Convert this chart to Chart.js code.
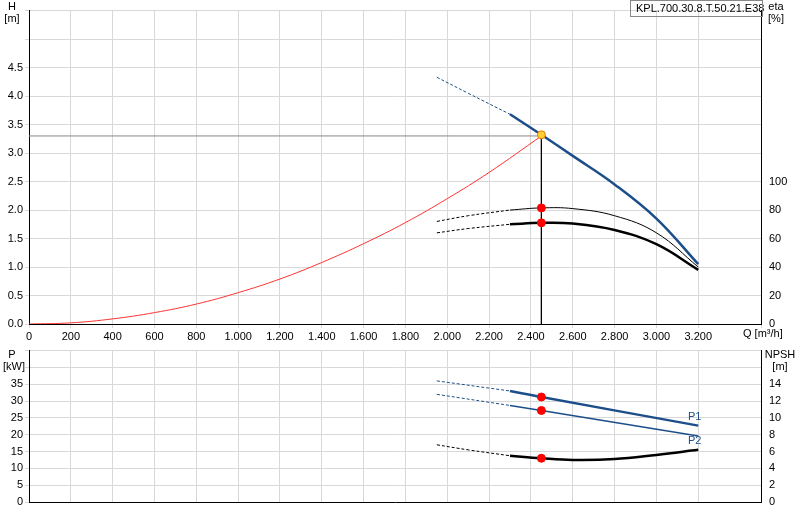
<!DOCTYPE html>
<html><head><meta charset="utf-8">
<script src="https://cdn.jsdelivr.net/npm/chart.js@4"></script>
<style>body{margin:0;background:#fff}#a{position:absolute;left:0;top:0}#b{position:absolute;left:0;top:340px}</style>
</head><body>
<div id="a" style="width:800px;height:340px"><canvas id="c1"></canvas></div>
<div id="b" style="width:800px;height:180px"><canvas id="c2"></canvas></div>
<script>
const qDash=[1950,2100,2300];
const hDash=[4.33,4.05,3.68];
const qSolid=[2300,2450,2600,2800,3000,3200];
const hSolid=[3.68,3.32,2.95,2.45,1.85,1.05];
const qSys=[0,200,400,600,800,1000,1200,1400,1600,1800,2000,2200,2450];
const hSys=[0,0.02,0.09,0.2,0.35,0.55,0.79,1.08,1.41,1.78,2.2,2.66,3.3];
const qEta=[1950,2100,2300,2450,2600,2800,3000,3200];
const eta1=[72,76,80,81.5,81,76,64,40];
const eta2=[64,67,70,71,70.5,66,56,38];
const qDuty=2450, hDuty=3.32, eta1Duty=81.5, eta2Duty=71;
const qP=[1950,2300,2450,3200];
const p1=[36,33,31.2,22.7];
const p2=[32,28.7,27.2,19.6];
const qN=[1950,2100,2300,2450,2600,2800,3000,3200];
const npsh=[6.8,6.2,5.5,5.2,5.0,5.1,5.6,6.2];
const p1Duty=31.2, p2Duty=27.2, npshDuty=5.2;

const F='"Liberation Sans", Arial, sans-serif';
Chart.defaults.font.family=F; Chart.defaults.font.size=11; Chart.defaults.color='#000';
const xy=(xs,ys,a,b)=>xs.slice(a,b).map((x,i)=>({x,y:ys[a+i]}));
function ln(data,color,w,dash,axis){return {data,borderColor:color,borderWidth:w,borderDash:dash||[],pointRadius:0,yAxisID:axis||'y',tension:0.4,fill:false};}
function pt(x,y,color,axis){return {data:[{x,y}],pointRadius:4,pointBackgroundColor:color,pointBorderColor:color==='#ffcc33'?'#e08000':color,borderWidth:1,showLine:false,yAxisID:axis||'y'};}
const fmtQ=v=>v>3200?'':v.toLocaleString('en-US');
function fix(w){return s=>{s.width=w;};}
const texts={id:'t',afterDraw(c,a,o){const x=c.ctx;x.save();x.font='11px '+F;x.fillStyle='#000';for(const t of o.items){x.textAlign=t.al||'left';x.fillStyle=t.c||'#000';x.fillText(t.s,t.x,t.y);}x.restore();}};
const blue='#1c4f8a';
const eta1Pts=qEta.map((x,i)=>({x,y:eta1[i]})), eta2Pts=qEta.map((x,i)=>({x,y:eta2[i]}));
new Chart(document.getElementById('c1'),{type:'line',plugins:[texts],
data:{datasets:[
 pt(qDuty,hDuty,'#ffcc33'),pt(qDuty,eta1Duty,'#ff0000','e'),pt(qDuty,eta2Duty,'#ff0000','e'),
 {data:[{x:0,y:3.3},{x:qDuty,y:3.3}],borderColor:'#888',borderWidth:1,pointRadius:0,yAxisID:'y'},
 {data:[{x:qDuty,y:hDuty},{x:qDuty,y:0}],borderColor:'#000',borderWidth:1,pointRadius:0,yAxisID:'y'},
 ln(xy(qSys,hSys,0),'#ff3333',1),
 ln(xy(qDash,hDash,0),blue,1,[3,2]),ln(xy(qSolid,hSolid,0),blue,2.5),
 ln(eta1Pts.slice(0,3),'#000',1,[3,2],'e'),ln(eta1Pts.slice(2),'#000',1,null,'e'),
 ln(eta2Pts.slice(0,3),'#000',1,[3,2],'e'),ln(eta2Pts.slice(2),'#000',2.5,null,'e')
]},
options:{animation:false,responsive:true,maintainAspectRatio:false,layout:{padding:0},
plugins:{legend:{display:false},tooltip:{enabled:false},t:{items:[{s:'H',x:12,y:10,al:'center'},{s:'[m]',x:12,y:22,al:'center'},{s:'eta',x:776,y:10,al:'center'},{s:'[%]',x:776,y:22,al:'center'},{s:'Q [m³/h]',x:743,y:337},{s:'KPL.700.30.8.T.50.21.E38',x:636,y:12}]}},
scales:{x:{type:'linear',min:0,max:3500,afterFit:s=>{s.height=16;},ticks:{stepSize:200,callback:fmtQ,maxRotation:0,autoSkip:false,padding:2},grid:{color:'#d8d8d8',tickLength:4},border:{color:'#000'}},
y:{min:0,max:5.5,afterFit:fix(29),ticks:{stepSize:0.5,callback:v=>v>4.6?'':v.toFixed(1),padding:2},grid:{color:'#d8d8d8',tickLength:4},border:{color:'#000'}},
e:{position:'right',min:0,max:220,afterFit:fix(39),ticks:{stepSize:20,callback:v=>v>100?'':v,padding:4},grid:{display:false,tickLength:4},border:{color:'#000'}}}}});
// box
const boxPl={id:'bx',afterDraw(c){const x=c.ctx;x.save();x.strokeStyle='#888';x.strokeRect(630.5,0.5,132,16);x.restore();}};
Chart.register&&0;
new Chart(document.getElementById('c2'),{type:'line',plugins:[texts],
data:{datasets:[
 pt(qDuty,p1Duty,'#ff0000'),pt(qDuty,p2Duty,'#ff0000'),pt(qDuty,npshDuty,'#ff0000','n'),
 ln(xy(qP,p1,0,2),blue,1,[3,2]),ln(xy(qP,p1,1),blue,2.5),
 ln(xy(qP,p2,0,2),blue,1,[3,2]),ln(xy(qP,p2,1),blue,1.5),
 ln(xy(qN,npsh,0,3),'#000',1,[3,2],'n'),ln(xy(qN,npsh,2),'#000',2.5,null,'n')
]},
options:{animation:false,responsive:true,maintainAspectRatio:false,layout:{padding:{top:10}},
plugins:{legend:{display:false},tooltip:{enabled:false},t:{items:[{s:'P',x:12,y:18,al:'center'},{s:'[kW]',x:14,y:30,al:'center'},{s:'NPSH',x:780,y:18,al:'center'},{s:'[m]',x:780,y:30,al:'center'},{s:'P1',x:688,y:80,c:blue},{s:'P2',x:688,y:104,c:blue}]}},
scales:{x:{type:'linear',min:0,max:3500,afterFit:s=>{s.height=18;},ticks:{display:false,stepSize:200},grid:{color:'#d8d8d8',tickLength:0},border:{color:'#000'}},
y:{min:0,max:45,afterFit:fix(29),ticks:{stepSize:5,callback:v=>v>36?'':v,padding:2},grid:{color:'#d8d8d8',tickLength:4},border:{color:'#000'}},
n:{position:'right',min:0,max:18,afterFit:fix(39),ticks:{stepSize:2,callback:v=>v>14?'':v,padding:4},grid:{display:false,tickLength:4},border:{color:'#000'}}}}});
Chart.getChart('c1').config.plugins.push(boxPl);Chart.getChart('c1').update();
</script></body></html>
